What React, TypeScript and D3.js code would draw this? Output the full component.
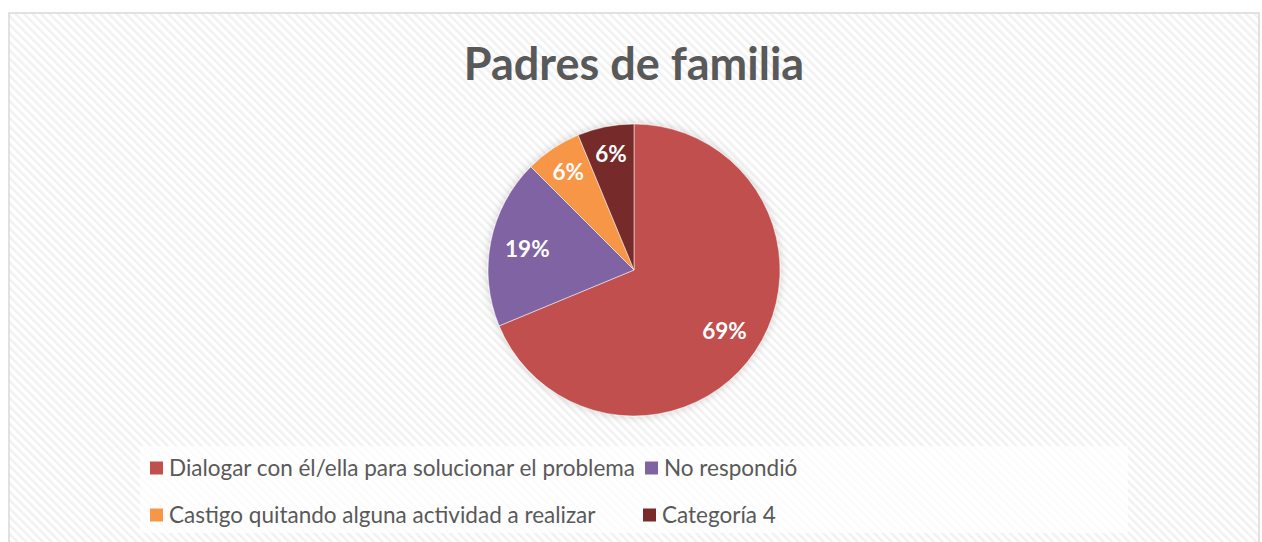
import { useEffect, useRef } from "react";
import * as d3 from "d3";

const title = "Padres de familia";
const categories = [
  "Dialogar con él/ella para solucionar el problema",
  "No respondió",
  "Castigo quitando alguna actividad a realizar",
  "Categoría 4",
];
const counts = [11, 3, 1, 1];
const colors = ["#C0504D", "#8064A2", "#F79646", "#772C2A"];

const W = 1262;
const H = 542;

export default function App() {
  const svgRef = useRef<SVGSVGElement>(null);

  useEffect(() => {
    const svg = d3.select(svgRef.current);
    svg.selectAll("*").remove();

    const defs = svg.append("defs");
    const pat = defs
      .append("pattern")
      .attr("id", "hatch")
      .attr("patternUnits", "userSpaceOnUse")
      .attr("width", 6)
      .attr("height", 6)
      .attr("patternTransform", "rotate(-45)");
    pat.append("rect").attr("width", 6).attr("height", 6).attr("fill", "#ffffff");
    pat.append("rect").attr("width", 2.5).attr("height", 6).attr("fill", "#f1f1f1");

    const shadow = defs.append("filter").attr("id", "glow")
      .attr("x", "-20%").attr("y", "-20%").attr("width", "140%").attr("height", "140%");
    shadow.append("feGaussianBlur").attr("in", "SourceAlpha").attr("stdDeviation", 4).attr("result", "b");
    shadow.append("feFlood").attr("flood-color", "#000").attr("flood-opacity", 0.18);
    shadow.append("feComposite").attr("in2", "b").attr("operator", "in").attr("result", "s");
    const merge = shadow.append("feMerge");
    merge.append("feMergeNode").attr("in", "s");
    merge.append("feMergeNode").attr("in", "SourceGraphic");

    // chart area
    svg.append("rect").attr("width", W).attr("height", H).attr("fill", "#fff");
    svg.append("rect")
      .attr("x", 9).attr("y", 13)
      .attr("width", 1250).attr("height", H)
      .attr("fill", "url(#hatch)")
      .attr("stroke", "#d9d9d9")
      .attr("stroke-width", 1.5);

    // title
    svg.append("text")
      .attr("x", 634).attr("y", 80)
      .attr("text-anchor", "middle")
      .attr("font-family", "Lato, sans-serif")
      .attr("font-weight", "bold")
      .attr("font-size", 45)
      .attr("fill", "#595959")
      .text(title);

    // pie
    const cx = 634, cy = 270, r = 146;
    const total = d3.sum(counts);
    const pie = d3.pie<number>().sort(null).value(d => d);
    const arcs = pie(counts);
    const arc = d3.arc<d3.PieArcDatum<number>>().innerRadius(0).outerRadius(r);

    const g = svg.append("g").attr("transform", `translate(${cx},${cy})`);
    g.append("g").attr("filter", "url(#glow)")
      .selectAll("path")
      .data(arcs)
      .join("path")
      .attr("d", arc)
      .attr("fill", (d, i) => colors[i])
      .attr("stroke", "#fff")
      .attr("stroke-width", 0.5);

    g.selectAll("text.lbl")
      .data(arcs)
      .join("text")
      .attr("class", "lbl")
      .attr("transform", d => {
        const k = d.value / total < 0.1 ? 0.81 : 0.745;
        const a = (d.startAngle + d.endAngle) / 2;
        return `translate(${Math.sin(a) * r * k},${-Math.cos(a) * r * k})`;
      })
      .attr("text-anchor", "middle")
      .attr("dy", "0.36em")
      .attr("font-family", "Lato, sans-serif")
      .attr("font-weight", "bold")
      .attr("font-size", 22.5)
      .attr("fill", "#fff")
      .text(d => `${Math.round((d.value / total) * 100)}%`);

    // legend
    svg.append("rect")
      .attr("x", 140).attr("y", 446)
      .attr("width", 988).attr("height", 87)
      .attr("fill", "#fff").attr("fill-opacity", 0.7);

    const legX = [150, 645, 150, 643];
    const legY = [468, 468, 515, 515];
    const leg = svg.append("g").selectAll("g")
      .data(categories)
      .join("g")
      .attr("transform", (d, i) => `translate(${legX[i]},${legY[i]})`);
    leg.append("rect")
      .attr("x", 0).attr("y", -6.5)
      .attr("width", 13).attr("height", 13)
      .attr("fill", (d, i) => colors[i]);
    leg.append("text")
      .attr("x", 19).attr("y", 8)
      .attr("font-family", "Lato, sans-serif")
      .attr("font-size", 22.5)
      .attr("fill", "#595959")
      .text(d => d);
  }, []);

  return (
    <div style={{ position: "absolute", left: 0, top: 0 }}>
      <svg ref={svgRef} width={W} height={H} style={{ display: "block" }}></svg>
    </div>
  );
}
